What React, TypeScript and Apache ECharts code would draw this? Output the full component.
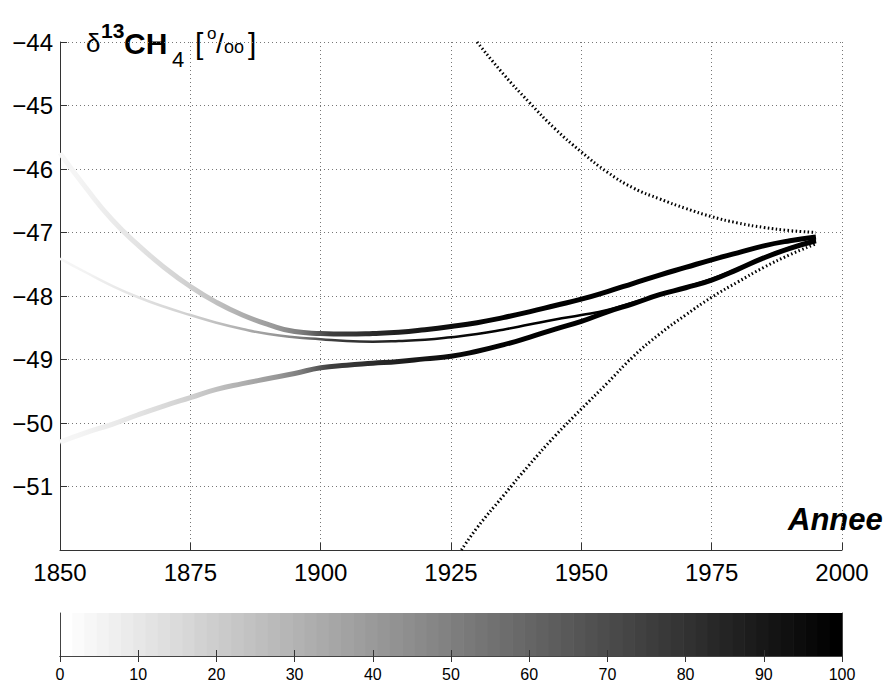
import React, { useEffect, useRef } from "react";
import * as echarts from "echarts";

const YEARS = [1850, 1855, 1860, 1865, 1870, 1875, 1880, 1885, 1890, 1895, 1900, 1905, 1910, 1915, 1920, 1925, 1930, 1935, 1940, 1945, 1950, 1955, 1960, 1965, 1970, 1975, 1980, 1985, 1990, 1995];
const UPPER_VALUES = [-45.75, -46.3, -46.8, -47.2, -47.55, -47.85, -48.1, -48.3, -48.45, -48.56, -48.59, -48.6, -48.59, -48.57, -48.53, -48.48, -48.42, -48.34, -48.25, -48.15, -48.05, -47.93, -47.8, -47.67, -47.55, -47.43, -47.32, -47.21, -47.13, -47.07];
const THIN_VALUES = [-47.41, -47.63, -47.84, -48.02, -48.17, -48.3, -48.42, -48.52, -48.6, -48.65, -48.68, -48.71, -48.72, -48.71, -48.69, -48.65, -48.6, -48.53, -48.45, -48.37, -48.3, -48.22, -48.1, -47.98, -47.86, -47.73, -47.57, -47.39, -47.24, -47.12];
const LOWER_VALUES = [-50.3, -50.15, -50.02, -49.87, -49.73, -49.6, -49.47, -49.38, -49.3, -49.22, -49.13, -49.09, -49.06, -49.03, -48.99, -48.95, -48.87, -48.77, -48.65, -48.52, -48.4, -48.25, -48.12, -47.98, -47.87, -47.75, -47.58, -47.4, -47.25, -47.13];

const DOTTED_UPPER_YEARS = [1930, 1935, 1940, 1945, 1950, 1955, 1960, 1965, 1970, 1975, 1980, 1985, 1990, 1995];
const DOTTED_UPPER_VALUES = [-44.0, -44.5, -44.95, -45.37, -45.73, -46.05, -46.3, -46.47, -46.62, -46.75, -46.85, -46.92, -46.97, -47.0];
const DOTTED_LOWER_YEARS = [1927, 1930, 1935, 1940, 1945, 1950, 1955, 1960, 1965, 1970, 1975, 1980, 1985, 1990, 1995];
const DOTTED_LOWER_VALUES = [-52.0, -51.65, -51.15, -50.66, -50.2, -49.78, -49.37, -48.95, -48.6, -48.3, -48.02, -47.78, -47.55, -47.35, -47.18];

// gray shade of the curves along the years 1850..2000 (5-year steps)
const YEAR_SHADES = [
  "#f8f8f8", "#f2f2f2", "#eaeaea", "#e2e2e2", "#d8d8d8", "#cdcdcd", "#bdbdbd", "#aaaaaa", "#999999", "#7a7a7a",
  "#404040", "#333333", "#262626", "#1a1a1a", "#101010", "#080808", "#040404",
  "#000000", "#000000", "#000000", "#000000", "#000000", "#000000", "#000000", "#000000", "#000000", "#000000", "#000000", "#000000", "#000000",
];

const COLORBAR_MIN = 0;
const COLORBAR_MAX = 100;
const COLORBAR_LEVELS = 64;

const FONT = "Liberation Sans, Arial, Helvetica, sans-serif";

function pairs(xs: number[], ys: number[]) {
  return xs.map((x, i) => [x, ys[i]]);
}

export default function App() {
  const ref = useRef<HTMLDivElement>(null);

  useEffect(() => {
    if (!ref.current) return;
    const chart = echarts.init(ref.current, undefined, { renderer: "svg" });

    const step = (COLORBAR_MAX - COLORBAR_MIN) / COLORBAR_LEVELS;
    const bands: number[][] = [];
    for (let k = 0; k < COLORBAR_LEVELS; k++) {
      bands.push([COLORBAR_MIN + k * step, COLORBAR_MIN + (k + 1) * step, 1 - k / (COLORBAR_LEVELS - 1)]);
    }

    const gridDotted = { show: true, lineStyle: { color: "#777", type: [1, 3] as any, width: 1 } };

    const option: any = {
      animation: false,
      backgroundColor: "#fff",
      grid: [
        { left: 60, top: 42, width: 782, height: 508, containLabel: false },
        { left: 60, top: 613, width: 782, height: 45, containLabel: false },
      ],
      xAxis: [
        {
          type: "value", gridIndex: 0, min: 1850, max: 2000, interval: 25,
          axisLine: { show: true, lineStyle: { color: "#333", width: 1 } },
          axisTick: { show: true, inside: true, length: 7, lineStyle: { color: "#333" } },
          axisLabel: { color: "#000", fontSize: 24, fontFamily: FONT, margin: 10, formatter: (v: number) => String(v) },
          splitLine: gridDotted,
        },
        {
          type: "value", gridIndex: 1, min: COLORBAR_MIN, max: COLORBAR_MAX, interval: 10, position: "bottom", z: 5,
          axisLine: { show: true, lineStyle: { color: "#444", width: 1 } },
          axisTick: { show: true, inside: true, length: 6, lineStyle: { color: "#333" } },
          axisLabel: { color: "#000", fontSize: 16, fontFamily: FONT, margin: 10, formatter: (v: number) => String(v) },
          splitLine: { show: false },
        },
        {
          type: "value", gridIndex: 1, min: COLORBAR_MIN, max: COLORBAR_MAX, interval: 10, position: "top", z: 5,
          axisLine: { show: true, lineStyle: { color: "#444", width: 1 } },
          axisTick: { show: true, inside: true, length: 6, lineStyle: { color: "#333" } },
          axisLabel: { show: false },
          splitLine: { show: false },
        },
      ],
      yAxis: [
        {
          type: "value", gridIndex: 0, min: -52, max: -44, interval: 1,
          axisLine: { show: true, lineStyle: { color: "#333", width: 1 } },
          axisTick: { show: true, inside: true, length: 7, lineStyle: { color: "#333" } },
          axisLabel: {
            color: "#000", fontSize: 24, fontFamily: FONT, margin: 7,
            formatter: (v: number) => (v === -52 ? "" : "\u2212" + Math.abs(v)),
          },
          splitLine: gridDotted,
        },
        {
          type: "value", gridIndex: 1, min: 0, max: 1, position: "left", z: 5,
          axisLine: { show: true, lineStyle: { color: "#444", width: 1 } },
          axisTick: { show: false }, axisLabel: { show: false }, splitLine: { show: false },
        },
        {
          type: "value", gridIndex: 1, min: 0, max: 1, position: "right", z: 5,
          axisLine: { show: true, onZero: false, lineStyle: { color: "#444", width: 1 } },
          axisTick: { show: false }, axisLabel: { show: false }, splitLine: { show: false },
        },
      ],
      visualMap: [
        {
          type: "continuous", show: false, dimension: 0, seriesIndex: [0, 1, 2],
          min: 1850, max: 2000, inRange: { color: YEAR_SHADES },
        },
      ],
      series: [
        {
          type: "line", xAxisIndex: 0, yAxisIndex: 0, data: pairs(YEARS, UPPER_VALUES),
          smooth: true, showSymbol: false, lineStyle: { width: 5 }, z: 3,
        },
        {
          type: "line", xAxisIndex: 0, yAxisIndex: 0, data: pairs(YEARS, LOWER_VALUES),
          smooth: true, showSymbol: false, lineStyle: { width: 5 }, z: 3,
        },
        {
          type: "line", xAxisIndex: 0, yAxisIndex: 0, data: pairs(YEARS, THIN_VALUES),
          smooth: true, showSymbol: false, lineStyle: { width: 2.5 }, z: 4,
        },
        {
          type: "line", xAxisIndex: 0, yAxisIndex: 0, data: pairs(DOTTED_UPPER_YEARS, DOTTED_UPPER_VALUES),
          smooth: true, showSymbol: false, z: 4,
          lineStyle: { width: 3, color: "#000", type: [1.5, 2.5] },
        },
        {
          type: "line", xAxisIndex: 0, yAxisIndex: 0, data: pairs(DOTTED_LOWER_YEARS, DOTTED_LOWER_VALUES),
          smooth: true, showSymbol: false, z: 4,
          lineStyle: { width: 3, color: "#000", type: [1.5, 2.5] },
        },
        {
          type: "custom", xAxisIndex: 1, yAxisIndex: 1, data: bands, z: 2,
          renderItem: (params: any, api: any) => {
            const p0 = api.coord([api.value(0), 1]);
            const p1 = api.coord([api.value(1), 0]);
            const g = Math.round(api.value(2) * 255);
            return {
              type: "rect",
              shape: { x: p0[0], y: p0[1], width: p1[0] - p0[0] + 0.6, height: p1[1] - p0[1] },
              style: { fill: `rgb(${g},${g},${g})` },
            };
          },
        },
      ],
      graphic: [
        { type: "text", x: 86, y: 43, style: { text: "\u03b4", font: `normal 26px ${FONT}`, fill: "#000", verticalAlign: "middle" } },
        { type: "text", x: 101, y: 30, style: { text: "13", font: `bold 21px ${FONT}`, fill: "#000", verticalAlign: "middle" } },
        { type: "text", x: 124, y: 43, style: { text: "CH", font: `bold 30px ${FONT}`, fill: "#000", verticalAlign: "middle" } },
        { type: "text", x: 172, y: 59, style: { text: "4", font: `normal 22px ${FONT}`, fill: "#000", verticalAlign: "middle" } },
        { type: "text", x: 195, y: 43, style: { text: "[", font: `normal 30px ${FONT}`, fill: "#000", verticalAlign: "middle" } },
        { type: "text", x: 207, y: 33, style: { text: "o", font: `normal 17px ${FONT}`, fill: "#000", verticalAlign: "middle" } },
        { type: "text", x: 216, y: 43, style: { text: "/", font: `normal 28px ${FONT}`, fill: "#000", verticalAlign: "middle" } },
        { type: "text", x: 224, y: 47, style: { text: "oo", font: `normal 18px ${FONT}`, fill: "#000", verticalAlign: "middle" } },
        { type: "text", x: 248, y: 43, style: { text: "]", font: `normal 30px ${FONT}`, fill: "#000", verticalAlign: "middle" } },
        { type: "text", x: 788, y: 519, style: { text: "Annee", font: `italic bold 31px ${FONT}`, fill: "#000", verticalAlign: "middle" } },
      ],
    };

    chart.setOption(option);
    return () => chart.dispose();
  }, []);

  return <div ref={ref} style={{ position: "fixed", left: 0, top: 0, width: 887, height: 682 }} />;
}
